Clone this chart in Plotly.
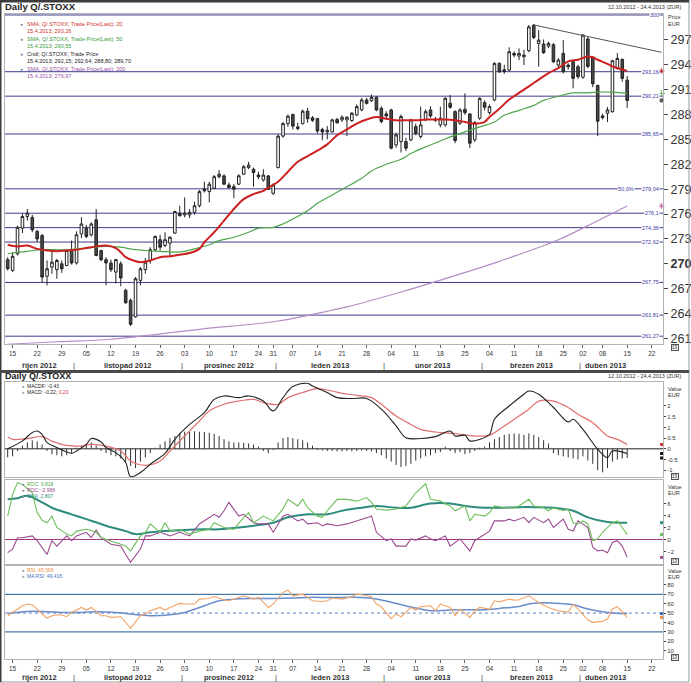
import plotly.graph_objects as go
import pandas as pd

W, H = 691, 683
FONT = "Liberation Sans, Arial, sans-serif"

# ---------------- trading calendar (chart range 12.10.2012 - 24.4.2013) ----------------
holidays = ["2012-12-25", "2012-12-26", "2013-01-01", "2013-03-29", "2013-04-01"]
calendar = [d for d in pd.bdate_range("2012-10-12", "2013-04-24")
            if d.strftime("%Y-%m-%d") not in holidays]
day_no = list(range(len(calendar)))

# ---------------- daily candles Q/.STOXX ----------------
open_ = [270.5, 269.2, 271.2, 274.3, 275.7, 275.6, 273.9, 273.4, 268.5, 269.6,
         269.3, 270.0, 269.8, 271.7, 270.1, 273.6, 274.3, 273.5, 275.3, 271.6,
         270.5, 270.1, 269.0, 270.0, 266.8, 265.6, 263.6, 268.0, 269.3, 270.4,
         271.7, 272.9, 272.2, 272.5, 273.7, 276.1, 275.9, 275.9, 276.2, 277.0,
         279.0, 278.7, 279.1, 280.5, 280.6, 279.5, 279.3, 279.6, 280.8, 281.6,
         281.4, 280.7, 280.1, 280.6, 278.5, 281.6, 285.4, 286.9, 288.0, 286.3,
         286.9, 288.4, 287.6, 287.5, 286.2, 285.9, 285.9, 287.4, 287.35, 287.35,
         287.27, 287.95, 288.55, 289.75, 289.67, 290.07, 288.75, 288.07, 288.55, 284.34,
         284.74, 284.74, 284.94, 286.54, 285.34, 287.35, 288.55, 287.43, 286.74, 286.74,
         289.35, 288.35, 286.95, 288.63, 288.07, 284.94, 287.55, 289.43, 288.23, 289.75,
         294.16, 293.4, 293.36, 295.37, 295.05, 294.96, 295.69, 298.77, 296.57, 296.49,
         296.25, 296.41, 293.96, 295.37, 293.96, 294.36, 293.76, 292.5, 297.1, 294.9,
         291.5, 287.83, 288.15, 288.35, 293.56, 294.64, 292.15]
high = [270.8, 271.4, 274.6, 276.1, 276.6, 275.9, 274.1, 273.6, 270.4, 271.5,
        270.6, 270.4, 271.8, 272.8, 273.9, 275.6, 274.7, 275.0, 276.6, 271.7,
        270.8, 270.5, 270.6, 270.3, 267.0, 265.8, 268.4, 269.6, 270.7, 272.0,
        273.4, 273.5, 273.8, 273.3, 276.4, 277.0, 278.0, 276.6, 277.5, 278.9,
        279.9, 279.9, 280.7, 281.3, 280.8, 279.8, 279.6, 280.8, 281.9, 282.3,
        281.6, 281.1, 281.4, 280.7, 279.7, 285.6, 287.1, 288.0, 288.1, 287.0,
        288.6, 288.8, 287.8, 287.6, 286.4, 286.6, 287.5, 287.6, 287.9, 287.8,
        288.3, 289.2, 290.0, 290.0, 290.4, 290.2, 289.0, 288.4, 288.7, 285.8,
        288.0, 285.2, 287.5, 286.9, 288.95, 288.6, 289.0, 287.7, 288.95, 290.07,
        290.35, 288.5, 288.75, 290.55, 288.15, 287.2, 290.07, 289.7, 289.2, 294.3,
        294.3, 294.0, 296.1, 295.6, 295.96, 295.8, 298.8, 298.9, 298.17, 297.05,
        296.8, 296.6, 294.8, 296.97, 294.2, 294.56, 294.0, 297.7, 297.4, 295.0,
        291.6, 288.1, 288.9, 294.6, 295.4, 294.76, 292.64]
low = [269.2, 269.0, 271.0, 273.7, 275.2, 273.8, 272.6, 267.7, 267.4, 268.8,
       268.2, 268.9, 269.7, 269.9, 269.9, 273.1, 273.1, 273.3, 270.9, 270.3,
       267.4, 269.0, 267.6, 267.3, 265.2, 262.5, 263.5, 267.4, 268.8, 270.0,
       271.5, 271.6, 272.0, 270.8, 273.6, 275.7, 275.6, 275.5, 275.9, 276.8,
       278.6, 277.4, 279.0, 280.3, 279.5, 279.1, 277.9, 279.5, 280.7, 281.4,
       279.3, 280.2, 279.9, 278.9, 278.3, 281.5, 285.2, 286.5, 286.2, 286.1,
       286.8, 287.0, 287.1, 285.7, 284.9, 285.0, 285.8, 286.9, 287.1, 285.4,
       287.1, 287.8, 288.4, 289.2, 289.5, 288.4, 286.95, 287.4, 283.8, 284.0,
       283.42, 283.6, 284.8, 285.5, 285.1, 287.2, 287.6, 287.1, 286.46, 286.54,
       288.7, 284.54, 286.74, 287.95, 283.94, 284.7, 287.35, 288.5, 288.0, 289.6,
       293.0, 292.9, 293.2, 294.9, 294.56, 293.96, 295.5, 297.1, 293.76, 295.3,
       296.0, 294.2, 293.7, 292.96, 293.4, 291.16, 292.3, 292.3, 293.6, 291.3,
       285.4, 287.4, 287.1, 288.2, 293.4, 291.96, 288.80]
close = [269.4, 270.9, 274.4, 275.7, 276.1, 274.1, 273.0, 268.4, 269.4, 270.2,
         270.4, 269.4, 271.6, 270.1, 273.5, 274.8, 273.3, 274.8, 271.0, 270.5,
         270.1, 269.3, 270.5, 268.3, 265.3, 262.7, 268.2, 269.4, 270.2, 271.7,
         273.3, 272.0, 272.9, 273.2, 276.3, 275.8, 276.1, 276.2, 277.0, 278.7,
         278.8, 279.6, 280.5, 280.8, 279.6, 279.2, 279.0, 280.6, 281.7, 281.9,
         281.0, 280.5, 280.7, 279.0, 279.5, 285.4, 286.9, 287.8, 286.6, 286.5,
         288.4, 287.5, 287.3, 286.0, 285.9, 286.1, 287.35, 287.0, 287.67, 287.67,
         288.15, 288.95, 289.75, 289.35, 290.07, 288.55, 287.15, 287.83, 283.94, 285.54,
         287.75, 283.94, 287.35, 285.74, 286.74, 288.35, 287.83, 287.35, 287.55, 289.95,
         288.87, 284.86, 288.55, 288.23, 284.54, 287.03, 289.95, 288.87, 288.95, 294.16,
         293.16, 293.2, 295.57, 295.17, 295.37, 295.17, 298.57, 297.29, 296.97, 295.45,
         296.57, 294.36, 294.56, 293.16, 293.76, 292.36, 292.56, 297.57, 293.8, 291.7,
         287.2, 287.63, 288.55, 294.48, 294.76, 292.36, 289.70]

# ---------------- moving averages (trading-day number, value) ----------------
sma20_day = [0, 2, 4, 6, 8, 10, 12, 14, 16, 18, 20, 22, 23, 24, 26, 27, 29, 31, 33, 35, 37, 39, 40, 42,
             44, 46, 48, 50, 52, 53, 55, 57, 59, 62, 65, 67, 69, 71, 73, 75, 77, 79, 81, 83, 85, 87,
             89, 91, 93, 95, 97, 98, 100, 102, 104, 106, 108, 110, 112, 114, 116, 118, 119, 120,
             122, 123, 124, 126]
sma20_val = [272.3, 272.1, 272.2, 271.8, 271.6, 271.5, 271.6, 271.7, 271.9, 272.1, 272.2, 271.9,
             271.4, 270.8, 270.3, 270.2, 270.4, 270.8, 270.9, 271.1, 271.3, 271.8, 272.6, 273.8,
             275.2, 276.6, 277.8, 278.4, 278.8, 279.2, 279.9, 281.1, 282.3, 283.3, 284.4, 285.5,
             286.2, 286.9, 287.4, 287.7, 287.5, 287.3, 287.3, 287.3, 287.4, 287.4, 287.4, 287.3,
             287.1, 286.9, 287.1, 287.7, 288.7, 289.8, 290.6, 291.4, 292.2, 293.0, 293.6, 294.4,
             294.6, 295.0, 294.9, 294.6, 294.1, 293.8, 293.6, 293.26]
sma50_day = [0, 1, 4, 7, 12, 16, 20, 23, 26, 28, 31, 34, 36, 38, 41, 43, 46, 49, 51, 54, 56, 58,
             61, 63, 66, 69, 72, 74, 77, 80, 82, 85, 88, 90, 93, 96, 99, 101, 104, 107, 109, 112,
             115, 117, 120, 123, 126]
sma50_val = [271.2, 271.3, 271.5, 271.7, 271.7, 271.9, 272.1, 272.0, 271.7, 271.6, 271.5, 271.4,
             271.5, 271.8, 272.3, 272.8, 273.2, 273.8, 274.3, 274.4, 274.8, 275.4, 276.4, 277.3,
             278.3, 279.3, 280.3, 281.2, 282.0, 282.6, 283.3, 284.1, 284.8, 285.3, 285.9, 286.5,
             287.1, 287.9, 288.5, 289.1, 289.7, 290.2, 290.6, 290.6, 290.7, 290.7, 290.55]
sma200_day = [0, 10, 21, 39, 55, 66, 69, 80, 90, 100, 112, 120, 126]
sma200_val = [260.3, 260.6, 260.9, 262.1, 263.1, 264.4, 264.8, 266.6, 268.4, 270.3, 272.9, 275.2, 276.97]

trend_dates = ["2013-03-15", "2013-04-24"]
trend_vals = [298.8, 295.5]

levels = [300, 293.16, 290.21, 285.65, 279.04, 276.1, 274.36, 272.62, 267.75, 263.81, 261.27]
level_text = ["300", "293,16", "290,21", "285,65", "279,04", "276,1", "274,36", "272,62",
              "267,75", "263,81", "261,27"]
price_ticks = [261, 264, 267, 270, 273, 276, 279, 282, 285, 288, 291, 294, 297]

# ---------------- MACD ----------------
macd_day = [0, 3, 5, 6, 7, 8, 10, 13, 14, 16, 17, 19, 20, 22, 24, 25, 27, 29, 32, 34, 37, 40, 42,
            44, 47, 49, 52, 54, 56, 58, 61, 62, 65, 67, 70, 73, 76, 79, 81, 84, 87, 90, 91, 93, 94,
            96, 98, 99, 102, 105, 106, 108, 111, 114, 115, 117, 120, 122, 123, 126]
macd_val = [0.0, 0.37, 0.76, 0.83, 0.68, 0.29, 0.06, -0.21, -0.1, 0.21, 0.48, 0.32, 0.06, -0.18,
            -0.64, -1.3, -1.11, -0.72, -0.21, 0.44, 1.14, 1.69, 2.31, 2.47, 2.39, 2.47, 2.23, 1.77,
            2.39, 2.91, 3.06, 2.93, 2.63, 2.39, 2.35, 2.35, 1.85, 1.07, 0.52, 0.48, 0.57, 0.83, 0.6,
            0.63, 0.37, 0.44, 0.68, 1.38, 2.0, 2.55, 2.70, 2.55, 1.93, 1.25, 1.38, 0.91, -0.02,
            -0.41, -0.1, -0.22]
signal_day = [0, 1, 4, 7, 9, 12, 15, 17, 20, 23, 25, 28, 31, 33, 36, 39, 41, 44, 47, 50, 52, 55,
              57, 60, 63, 66, 68, 71, 74, 76, 79, 82, 84, 88, 91, 95, 98, 100, 103, 106, 108, 111,
              114, 116, 119, 122, 124, 126]
signal_val = [0.55, 0.44, 0.48, 0.57, 0.36, 0.16, 0.13, 0.21, 0.13, -0.1, -0.57, -0.77, -0.57,
              -0.1, 0.6, 1.3, 1.77, 2.08, 2.23, 2.31, 2.16, 2.08, 2.39, 2.63, 2.81, 2.70, 2.59, 2.5,
              2.39, 2.08, 1.53, 1.14, 0.91, 0.76, 0.71, 0.6, 0.63, 0.91, 1.38, 1.85, 2.23, 2.23,
              1.93, 1.61, 1.22, 0.6, 0.44, 0.20]
macd_hist = [-0.4, -0.35, -0.1, 0.15, 0.3, 0.4, 0.35, 0.2, -0.1, -0.25,
             -0.3, -0.35, -0.3, -0.2, 0.05, 0.15, 0.25, 0.3, 0.15, -0.1,
             -0.2, -0.3, -0.35, -0.45, -0.6, -0.8, -0.9, -0.6, -0.4, -0.2,
             0.05, 0.2, 0.35, 0.5, 0.6, 0.75, 0.8, 0.8, 0.82, 0.8,
             0.78, 0.75, 0.7, 0.6, 0.45, 0.35, 0.3, 0.3, 0.28, 0.25,
             0.2, 0.1, -0.1, -0.2, -0.05, 0.3, 0.5, 0.55, 0.5, 0.45,
             0.4, 0.3, 0.15, -0.05, -0.08, -0.1, -0.1, -0.12, -0.12, -0.1,
             -0.12, -0.1, -0.08, -0.1, -0.12, -0.2, -0.3, -0.45, -0.6, -0.75,
             -0.85, -0.8, -0.7, -0.55, -0.45, -0.35, -0.3, -0.2, -0.15, 0.1,
             -0.1, -0.2, -0.15, -0.25, -0.2, -0.1, 0.05, 0.1, 0.3, 0.45,
             0.55, 0.65, 0.7, 0.72, 0.7, 0.65, 0.72, 0.65, 0.55, 0.4,
             0.25, -0.2, -0.3, -0.35, -0.4, -0.45, -0.5, -0.35, -0.55, -0.7,
             -1.0, -1.1, -0.9, -0.6, -0.5, -0.45, -0.43]

# ---------------- ROC ----------------
roc1_day = [0, 1, 2, 3, 5, 6, 7, 8, 9, 10, 12, 13, 14, 16, 17, 18, 19, 21, 23, 24, 25, 27, 28, 29,
            31, 32, 33, 35, 37, 39, 41, 42, 44, 46, 48, 49, 50, 52, 54, 56, 57, 59, 60, 61, 63, 64,
            65, 67, 69, 71, 73, 74, 75, 77, 79, 81, 82, 83, 85, 86, 88, 90, 91, 93, 94, 95, 97, 98,
            99, 101, 103, 104, 106, 107, 109, 110, 111, 113, 114, 115, 116, 117, 118, 119, 120,
            121, 123, 124, 125, 126]
roc1_val = [3.9, 7.5, 9.5, 9.2, 7.8, 4.5, 3.2, 2.8, 3.9, 2.0, 0.9, 0.6, 1.4, 1.7, 1.5, 1.2, 0.3,
            -0.2, -0.8, -1.1, -1.9, 0.6, 1.2, 2.6, 1.2, 2.8, 1.4, 1.7, 0.9, 1.4, 1.7, 2.8, 2.0, 1.7,
            3.7, 4.5, 2.8, 3.9, 3.1, 5.1, 6.7, 5.6, 6.7, 5.3, 3.9, 3.7, 4.8, 6.7, 6.7, 6.4, 7.0,
            6.2, 5.1, 4.9, 5.1, 5.6, 6.7, 7.8, 9.3, 6.7, 6.4, 5.6, 4.8, 5.6, 3.1, 4.2, 3.9, 4.5,
            5.6, 5.3, 5.3, 5.6, 6.7, 5.6, 5.3, 4.8, 5.3, 4.8, 5.1, 2.8, 2.6, 3.1, 2.6, -0.2, 0.1,
            1.2, 2.8, 3.1, 2.0, 0.818]
roc2_day = [0, 1, 2, 3, 5, 6, 8, 9, 10, 12, 13, 14, 16, 17, 18, 19, 21, 23, 24, 25, 27, 28, 29,
            31, 32, 33, 35, 37, 39, 41, 42, 43, 44, 45, 47, 48, 50, 51, 53, 54, 56, 57, 59, 60,
            61, 63, 64, 65, 67, 69, 71, 72, 74, 75, 77, 78, 79, 81, 82, 83, 85, 86, 87, 89, 90,
            92, 94, 95, 96, 98, 99, 101, 102, 103, 105, 106, 107, 109, 110, 111, 113, 114, 115,
            116, 118, 119, 120, 121, 122, 123, 124, 125, 126]
roc2_val = [-2.2, -1.6, 0.3, 0.3, 0.6, -0.2, -2.5, -0.2, -1.1, 0.6, -0.2, 0.6, 1.2, 0.3, 1.6, 0.3,
            -0.8, -1.1, -2.5, -3.8, -1.6, 0.6, 0.6, 1.2, 0.9, 0.6, 1.2, 0.6, 2.6, 3.7, 4.2, 3.7,
            4.8, 6.2, 3.9, 4.2, 2.8, 2.6, 2.6, 1.2, 3.9, 4.2, 3.1, 3.4, 2.6, 2.8, 2.3, 2.6, 2.3,
            2.6, 3.1, 3.4, 3.9, 1.2, -0.2, 0.1, -1.1, -1.1, 0.1, -0.1, 0.6, 0.1, -0.2, 0.6, -1.1,
            0.1, -1.9, -0.2, 0.3, 1.4, 3.1, 3.1, 3.4, 3.1, 3.7, 2.8, 3.7, 2.8, 3.4, 2.0, 3.4, 1.7,
            1.4, 3.1, 2.0, -1.3, -1.9, -1.8, -2.2, -0.5, -0.2, -1.1, -2.988]
rocma_day = [0, 2, 4, 7, 9, 13, 16, 20, 24, 26, 29, 32, 36, 40, 43, 47, 50, 54, 57, 61, 65, 68,
             72, 75, 79, 82, 86, 90, 93, 97, 100, 104, 107, 111, 115, 118, 122, 126]
rocma_val = [6.7, 6.9, 7.3, 6.2, 5.3, 4.2, 3.4, 2.3, 1.4, 0.9, 1.2, 1.4, 1.6, 1.7, 1.7, 2.0, 2.3,
             2.8, 3.7, 4.2, 4.2, 4.8, 5.3, 5.6, 5.3, 5.3, 6.0, 6.0, 5.6, 5.3, 5.3, 5.4, 5.4, 5.3,
             4.8, 3.7, 2.9, 2.807]

# ---------------- RSI ----------------
rsi_day = [0, 1, 3, 4, 5, 6, 7, 8, 9, 10, 11, 12, 13, 15, 16, 17, 19, 20, 21, 23, 24, 25, 27, 28,
           29, 31, 32, 33, 35, 36, 38, 39, 41, 42, 44, 45, 47, 48, 50, 51, 52, 53, 54, 56, 57, 58,
           60, 61, 62, 64, 65, 66, 68, 70, 71, 72, 74, 75, 76, 78, 79, 80, 82, 83, 84, 86, 87, 88,
           90, 91, 92, 94, 95, 96, 98, 99, 100, 102, 103, 104, 106, 107, 108, 110, 111, 112, 114,
           115, 116, 118, 119, 121, 122, 123, 124, 125, 126]
rsi_val = [47.2, 50.7, 57.8, 59.6, 58.9, 54.3, 48.9, 44.7, 47.2, 48.2, 47.9, 46.1, 50.7, 56.0,
           53.2, 56.0, 47.2, 47.2, 45.4, 46.1, 40.1, 34.0, 47.2, 48.9, 52.5, 56.0, 53.2, 56.0, 60.3,
           59.6, 59.6, 64.9, 65.6, 67.7, 64.2, 63.1, 66.7, 68.4, 64.9, 66.7, 61.3, 56.0, 59.6, 72.0,
           74.5, 68.4, 70.2, 66.7, 63.1, 62.4, 63.1, 66.0, 64.9, 67.4, 70.2, 69.5, 67.4, 59.6, 56.7,
           44.0, 48.9, 46.1, 56.0, 53.2, 56.7, 57.8, 52.5, 59.6, 56.0, 47.2, 54.3, 45.4, 52.5, 56.0,
           54.3, 63.1, 62.0, 64.9, 63.8, 64.2, 68.4, 64.9, 61.3, 56.0, 54.3, 52.5, 50.7, 59.6, 54.3,
           42.6, 40.1, 41.1, 43.6, 54.3, 56.7, 50.7, 45.368]
marsi_day = [0, 4, 8, 11, 15, 18, 22, 25, 29, 33, 36, 40, 43, 47, 50, 54, 58, 61, 65, 68, 72, 75,
             79, 83, 86, 90, 93, 97, 100, 104, 107, 111, 115, 118, 122, 126]
marsi_val = [49.6, 51.8, 51.4, 50.7, 50.7, 51.4, 50.7, 48.9, 47.2, 48.2, 50.7, 57.8, 63.1, 65.2,
             65.6, 65.6, 66.0, 66.7, 66.7, 66.7, 66.7, 64.9, 60.3, 55.3, 52.5, 53.2, 53.5, 53.5,
             55.0, 57.1, 60.6, 60.6, 58.9, 54.3, 50.7, 49.418]

month_names = ["říjen 2012", "listopad 2012", "prosinec 2012", "leden 2013",
               "únor 2013", "březen 2013", "duben 2013"]

# ---------------- helpers ----------------
def xp(px):
    return px / W


def yp(px):
    return 1 - px / H


pos_of = {d.strftime("%Y-%m-%d"): i for i, d in enumerate(calendar)}
n_data = len(close)
data_days = day_no[:n_data]

# weekly ticks: first trading day of every week (after the first partial week)
tick_pos, tick_txt = [], []
for i, d in enumerate(calendar):
    if i > 0 and d.isocalendar()[1] != calendar[i - 1].isocalendar()[1]:
        tick_pos.append(i)
        tick_txt.append(d.strftime("%d"))

# month label positions / separators
month_keys = sorted({(d.year, d.month) for d in calendar[:n_data]})
month_mid, month_sep = [], []
for k in month_keys:
    idx = [i for i in data_days if (calendar[i].year, calendar[i].month) == k]
    month_mid.append(sum(idx) / len(idx))
    if idx[0] > 0:
        month_sep.append(idx[0] - 0.5)

X_RANGE = [-0.55, 133.3]
DOM_X = [xp(5), xp(665)]
PRICE_DOM = [yp(345), yp(14)]
MACD_DOM = [yp(478), yp(383)]
ROC_DOM = [yp(565), yp(481)]
RSI_DOM = [yp(660), yp(567)]

fig = go.Figure()

# ---------------- price panel ----------------
fig.add_trace(go.Candlestick(
    x=data_days, open=open_, high=high, low=low, close=close,
    increasing=dict(fillcolor="#ffffff", line=dict(color="#222222", width=1)),
    decreasing=dict(fillcolor="#4a4a4a", line=dict(color="#222222", width=1)),
    whiskerwidth=0, hoverinfo="skip", xaxis="x", yaxis="y"))
fig.add_trace(go.Scatter(x=sma200_day, y=sma200_val, mode="lines",
                         line=dict(color="#b58cc4", width=1.2, shape="spline"),
                         xaxis="x", yaxis="y", hoverinfo="skip"))
fig.add_trace(go.Scatter(x=sma50_day, y=sma50_val, mode="lines",
                         line=dict(color="#4ea64a", width=1.2, shape="spline"),
                         xaxis="x", yaxis="y", hoverinfo="skip"))
fig.add_trace(go.Scatter(x=sma20_day, y=sma20_val, mode="lines",
                         line=dict(color="#cc1f1f", width=2, shape="spline"),
                         xaxis="x", yaxis="y", hoverinfo="skip"))
fig.add_trace(go.Scatter(x=[pos_of[d] for d in trend_dates], y=trend_vals, mode="lines",
                         line=dict(color="#555555", width=1), xaxis="x", yaxis="y",
                         hoverinfo="skip"))
# last-value markers on the right edge
edge_x = 133.0
fig.add_trace(go.Scatter(x=[edge_x] * 4, y=[sma20_val[-1], sma50_val[-1], close[-1], sma200_val[-1]],
                         mode="markers", cliponaxis=False,
                         marker=dict(symbol=["asterisk-open", "cross-thin-open", "square", "asterisk-open"],
                                     size=[5, 5, 3, 5],
                                     color=["#d02020", "#3a9a3a", "#111111", "#c0509a"],
                                     line=dict(width=1, color=["#d02020", "#3a9a3a", "#111111", "#c0509a"])),
                         xaxis="x", yaxis="y", hoverinfo="skip"))

# ---------------- MACD panel ----------------
hist_x, hist_y = [], []
for d, v in zip(data_days, macd_hist):
    hist_x += [d, d, None]
    hist_y += [0, v, None]
fig.add_trace(go.Scatter(x=hist_x, y=hist_y, mode="lines", line=dict(color="#333333", width=1),
                         xaxis="x2", yaxis="y2", hoverinfo="skip"))
fig.add_trace(go.Scatter(x=signal_day, y=signal_val, mode="lines",
                         line=dict(color="#e07070", width=1.2, shape="spline"),
                         xaxis="x2", yaxis="y2", hoverinfo="skip"))
fig.add_trace(go.Scatter(x=macd_day, y=macd_val, mode="lines",
                         line=dict(color="#222222", width=1.1, shape="spline"),
                         xaxis="x2", yaxis="y2", hoverinfo="skip"))
fig.add_trace(go.Scatter(x=[edge_x] * 3, y=[signal_val[-1], macd_val[-1], macd_hist[-1]], mode="markers",
                         cliponaxis=False, marker=dict(symbol="square", size=3,
                                                       color=["#d03030", "#111111", "#111111"]),
                         xaxis="x2", yaxis="y2", hoverinfo="skip"))

# ---------------- ROC panel ----------------
fig.add_trace(go.Scatter(x=rocma_day, y=rocma_val, mode="lines",
                         line=dict(color="#2e8b7e", width=2, shape="spline"),
                         xaxis="x3", yaxis="y3", hoverinfo="skip"))
fig.add_trace(go.Scatter(x=roc2_day, y=roc2_val, mode="lines",
                         line=dict(color="#9a4a90", width=1.1),
                         xaxis="x3", yaxis="y3", hoverinfo="skip"))
fig.add_trace(go.Scatter(x=roc1_day, y=roc1_val, mode="lines",
                         line=dict(color="#6cbf5a", width=1.1),
                         xaxis="x3", yaxis="y3", hoverinfo="skip"))
fig.add_trace(go.Scatter(x=[edge_x] * 3, y=[rocma_val[-1], roc1_val[-1], roc2_val[-1]], mode="markers",
                         cliponaxis=False, marker=dict(symbol="square", size=3,
                                                       color=["#2e8b7e", "#6cbf5a", "#9a4a90"]),
                         xaxis="x3", yaxis="y3", hoverinfo="skip"))

# ---------------- RSI panel ----------------
fig.add_trace(go.Scatter(x=marsi_day, y=marsi_val, mode="lines",
                         line=dict(color="#6a8ccc", width=1.5, shape="spline"),
                         xaxis="x4", yaxis="y4", hoverinfo="skip"))
fig.add_trace(go.Scatter(x=rsi_day, y=rsi_val, mode="lines",
                         line=dict(color="#f0a468", width=1.1),
                         xaxis="x4", yaxis="y4", hoverinfo="skip"))
fig.add_trace(go.Scatter(x=[edge_x] * 2, y=[marsi_val[-1], rsi_val[-1]], mode="markers",
                         cliponaxis=False, marker=dict(symbol="square", size=3,
                                                       color=["#3a66b0", "#f08a40"]),
                         xaxis="x4", yaxis="y4", hoverinfo="skip"))

# ---------------- axes ----------------
FRAME = "#b4b4b4"
common_x = dict(domain=DOM_X, range=X_RANGE, showgrid=False, zeroline=False, showline=True,
                mirror=True, linecolor=FRAME, linewidth=1, fixedrange=True)
fig.update_layout(
    xaxis=dict(common_x, anchor="y", tickmode="array", tickvals=tick_pos, ticktext=tick_txt,
               ticks="outside", ticklen=3, tickcolor="#666666",
               tickfont=dict(size=6.5, color="#333333", family=FONT),
               rangeslider=dict(visible=False)),
    xaxis2=dict(common_x, anchor="y2", showticklabels=False, ticks=""),
    xaxis3=dict(common_x, anchor="y3", showticklabels=False, ticks=""),
    xaxis4=dict(common_x, anchor="y4", tickmode="array", tickvals=tick_pos, ticktext=tick_txt,
                ticks="outside", ticklen=3, tickcolor="#666666",
                tickfont=dict(size=6.5, color="#333333", family=FONT)),
)

common_y = dict(side="right", showgrid=False, zeroline=False, showline=True, mirror=True,
                linecolor=FRAME, linewidth=1, ticks="outside", ticklen=4, tickcolor="#444444",
                fixedrange=True)
fig.update_layout(
    yaxis=dict(common_y, anchor="x", domain=PRICE_DOM, range=[260.27, 300.12], tickmode="array",
               tickvals=price_ticks,
               ticktext=[("<b>%d</b>" % t) if t == 270 else str(t) for t in price_ticks],
               tickfont=dict(size=12.5, color="#333333", family=FONT)),
    yaxis2=dict(common_y, anchor="x2", domain=MACD_DOM, range=[-1.33, 3.1], tickmode="array",
                tickvals=[-1, -0.5, 0, 0.5, 1, 1.5, 2], ticktext=["-1", "-0.5", "0", "0.5", "1", "1.5", "2"],
                ticklen=2, tickfont=dict(size=6, color="#333333", family=FONT)),
    yaxis3=dict(common_y, anchor="x3", domain=ROC_DOM, range=[-4.12, 9.88], tickmode="array",
                tickvals=[-2, 0, 2, 4, 6], ticklen=2,
                tickfont=dict(size=6, color="#333333", family=FONT)),
    yaxis4=dict(common_y, anchor="x4", domain=RSI_DOM, range=[1, 100], tickmode="array",
                tickvals=[10, 20, 30, 40, 50, 60, 70, 80], ticklen=2,
                tickfont=dict(size=6, color="#333333", family=FONT)),
)

# ---------------- shapes ----------------
shapes = []
LEVEL_C = "#3c3c8c"
for lv in levels:
    shapes.append(dict(type="line", xref="x domain", yref="y", x0=0, x1=1, y0=lv, y1=lv,
                       line=dict(color=LEVEL_C, width=1), layer="below"))
shapes.append(dict(type="line", xref="x2 domain", yref="y2", x0=0, x1=1, y0=0, y1=0,
                   line=dict(color="#222222", width=1), layer="below"))
shapes.append(dict(type="line", xref="x3 domain", yref="y3", x0=0, x1=1, y0=0, y1=0,
                   line=dict(color="#a0387e", width=1), layer="below"))
for lv in (70, 30):
    shapes.append(dict(type="line", xref="x4 domain", yref="y4", x0=0, x1=1, y0=lv, y1=lv,
                       line=dict(color="#4a7aa8", width=1.2), layer="below"))
shapes.append(dict(type="line", xref="x4 domain", yref="y4", x0=0, x1=1, y0=50, y1=50,
                   line=dict(color="#5a80c0", width=1, dash="dot"), layer="below"))
# outer frame & separators
shapes.append(dict(type="rect", xref="paper", yref="paper", x0=0, x1=1, y0=0, y1=1,
                   line=dict(color="#9a9a9a", width=1)))
shapes.append(dict(type="line", xref="paper", yref="paper", x0=0, x1=1, y0=yp(1), y1=yp(1),
                   line=dict(color="#3c3c3c", width=3)))
shapes.append(dict(type="line", xref="paper", yref="paper", x0=xp(0.5), x1=xp(0.5), y0=0, y1=1,
                   line=dict(color="#3c3c3c", width=2)))
shapes.append(dict(type="line", xref="paper", yref="paper", x0=0, x1=1, y0=yp(372), y1=yp(372),
                   line=dict(color="#4a4a4a", width=3)))
fig.update_layout(shapes=shapes)

# ---------------- annotations ----------------
ann = []


def text(t, x, y, size=6, color="#333333", xanchor="left", yanchor="middle", **kw):
    d = dict(text=t, x=xp(x), y=yp(y), xref="paper", yref="paper", showarrow=False,
             xanchor=xanchor, yanchor=yanchor, font=dict(size=size, color=color, family=FONT))
    d.update(kw)
    ann.append(d)


# headers
text("<b>Daily Q/.STOXX</b>", 3, 7, size=9.5, color="#222222")
text("12.10.2012 - 24.4.2013 (ZUR)", 686, 7, size=5.5, xanchor="right")
text("<b>Daily Q/.STOXX</b>", 3, 377, size=9, color="#222222")
text("12.10.2012 - 24.4.2013 (ZUR)", 686, 377, size=5.5, xanchor="right")
text("Price", 668, 17, size=5.5)
text("EUR", 668, 24, size=5.5)
for yv in (390, 488, 572):
    text("Value", 668, yv, size=5.5)
    text("EUR", 668, yv + 6, size=5.5)

# price legend
ICON = "#7f8fa8"
legend_rows = [
    ("SMA; Q/.STOXX; Trade Price(Last); 20", "15.4.2013; 293,26", "#d03030"),
    ("SMA; Q/.STOXX; Trade Price(Last); 50", "15.4.2013; 290,55", "#3a9a3a"),
    ("Cndl; Q/.STOXX; Trade Price", "15.4.2013; 292,15; 292,64; 288,80; 289,70", "#222222"),
    ("SMA; Q/.STOXX; Trade Price(Last); 200", "15.4.2013; 276,97", "#9a50a8"),
]
for k, (a, b, c) in enumerate(legend_rows):
    y0 = 24 + 15 * k
    text("●", 18, y0, size=5, color=ICON)
    text(a, 25, y0, size=5.5, color=c)
    text(b, 25, y0 + 7, size=5.5, color=c)

# lower legends
for t, y0, c in [("MACDF: -0.43", 387, "#222222"),
                 ("MACD: -0.22; <span style='color:#d04040'>0.20</span>", 393, "#222222"),
                 ("ROC: 0.818", 485, "#4ea64a"), ("ROC: -2.988", 491, "#9a4a90"),
                 ("SMA: 2.807", 497, "#2e8b7e"),
                 ("RSI: 45.368", 571, "#f08a40"), ("MA RSI: 49.418", 577, "#4a70c0")]:
    text("●", 20, y0, size=4.5, color=ICON)
    text(t, 25, y0, size=5, color=c)

# level labels
for lv, lt in zip(levels, level_text):
    ann.append(dict(text=lt, x=xp(662), y=lv, xref="paper", yref="y", showarrow=False,
                    xanchor="right", yanchor="middle", bgcolor="#ffffff", borderpad=0,
                    font=dict(size=5.5, color="#3a3aa0", family=FONT)))
ann.append(dict(text="50,0%", x=xp(637), y=levels[4], xref="paper", yref="y", showarrow=False,
                xanchor="right", yanchor="middle", bgcolor="#ffffff", borderpad=0,
                font=dict(size=5.5, color="#3a3aa0", family=FONT)))

# month labels & separators
for ybase in (366, 678):
    for m, name in zip(month_mid, month_names):
        ann.append(dict(text="<b>%s</b>" % name, x=m, y=yp(ybase), xref="x", yref="paper",
                        showarrow=False, xanchor="center", yanchor="middle",
                        font=dict(size=7.5, color="#333333", family=FONT)))
    for s in month_sep:
        ann.append(dict(text="|", x=s, y=yp(ybase), xref="x", yref="paper", showarrow=False,
                        xanchor="center", yanchor="middle",
                        font=dict(size=8, color="#444444", family=FONT)))

# small panel buttons
for yb in (348, 477, 562, 658):
    text("13", 677, yb, size=4.5, color="#333333", xanchor="center", bgcolor="#eeeeee",
         bordercolor="#555555", borderwidth=1, borderpad=0)

fig.update_layout(annotations=ann)

fig.update_layout(width=W, height=H, margin=dict(l=0, r=0, t=0, b=0),
                  paper_bgcolor="#ffffff", plot_bgcolor="#ffffff", showlegend=False,
                  boxgap=0.25, font=dict(family=FONT), hovermode=False)

fig.write_html("out.html", config={"displayModeBar": False, "staticPlot": True},
               post_script="document.body.style.margin='0px';document.body.style.overflow='hidden';")
